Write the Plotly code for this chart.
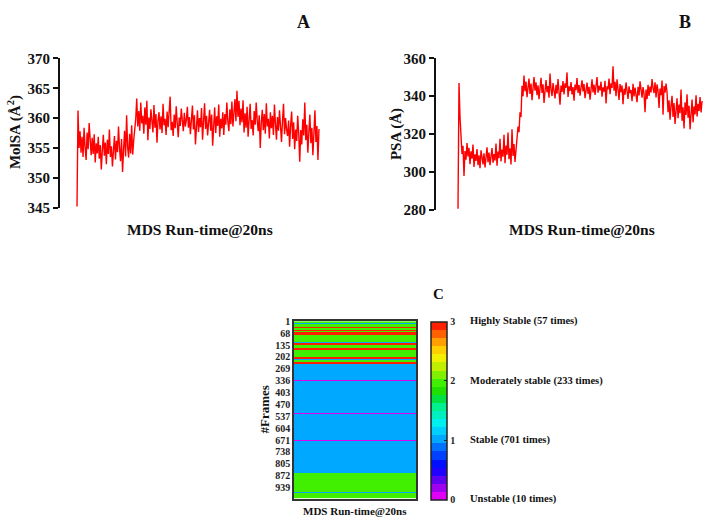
import numpy as np
import plotly.graph_objects as go

# ---------------- DATA ----------------
molsa_values = [
    345.2, 361.3, 355.0, 357.8, 354.2, 356.9, 353.5, 358.4, 355.1, 353.0,
    357.6, 354.8, 359.2, 355.9, 353.8, 356.7, 354.0, 357.3, 352.6, 355.8,
    354.1, 356.9, 353.2, 355.5, 351.4, 354.6, 357.2, 353.7, 355.9, 352.3,
    356.4, 354.0, 358.1, 353.5, 355.3, 351.9, 354.8, 357.0, 353.1, 356.2,
    354.3, 358.6, 355.0, 352.8, 356.5, 351.0, 354.7, 357.9, 353.6, 360.5,
    355.2, 353.4, 357.4, 354.1, 358.8, 353.9, 356.3, 357.6,
    359.8, 363.3, 358.6, 361.2, 357.9, 362.6, 359.1, 360.4, 357.4, 361.8,
    358.9, 362.9, 356.3, 360.1, 358.2, 361.5, 359.0, 357.6, 362.2, 358.4,
    360.7, 355.9, 359.6, 361.0, 358.1,
    360.3, 357.5, 362.4, 358.8, 359.9, 357.2, 361.1, 358.5, 360.8, 363.6,
    358.0, 359.4, 357.0, 360.6, 358.3, 362.0, 359.2, 356.8, 360.1, 358.7,
    361.6, 359.5, 357.8, 360.9, 358.6,
    359.7, 361.9, 358.4, 360.2, 357.3, 359.8, 362.1, 358.1, 360.5, 355.6,
    359.0, 361.3, 357.7, 360.0, 358.5, 361.7, 356.4, 359.3, 362.5, 358.2,
    360.4, 357.1, 359.6, 361.4, 357.9,
    360.6, 355.4, 359.1, 361.8, 357.5, 360.3, 358.7, 362.3, 356.9, 359.9,
    358.3, 361.0, 357.2, 360.7, 358.9, 362.6, 359.4, 357.8, 361.5, 359.0,
    362.8, 358.6, 360.9, 363.2, 359.5,
    364.6, 360.2, 362.9, 358.8, 361.6, 359.3, 363.0, 357.6, 360.8, 358.4,
    361.9, 356.9, 360.1, 362.4, 358.2, 359.7, 357.1, 361.2, 358.9, 362.6,
    359.6, 357.8, 360.5, 355.0, 359.2,
    361.4, 358.0, 360.7, 357.4, 362.5, 358.6, 359.9, 356.6, 361.0, 358.3,
    360.4, 357.2, 362.3, 359.1, 356.4, 360.2, 357.9, 361.3, 358.5, 356.0,
    359.7, 362.4, 357.3, 360.0, 358.1,
    357.0, 359.6, 355.2, 358.8, 361.1, 356.5, 359.3, 354.8, 358.1, 356.2,
    360.4, 357.4, 352.7, 358.0, 355.6, 359.8, 357.1, 362.6, 356.3, 358.9,
    354.2, 357.6, 360.6, 355.8, 358.4, 353.8, 357.2, 361.3, 356.0, 358.7,
    353.0, 358.2,
]

psa_values = [
    280.5, 347.0, 329.0,
    316.2, 309.5, 313.8, 297.8, 311.0, 306.4, 315.3, 308.2, 312.7, 304.1,
    310.9, 307.0, 314.4, 302.6, 309.3, 305.8, 312.1, 303.5, 308.7, 301.9,
    311.4, 306.2, 304.0, 309.8, 302.3, 307.5, 313.0, 305.1, 310.2, 303.6,
    308.9, 312.6, 304.8, 309.4, 306.0, 315.0, 303.2, 310.7, 307.3, 317.5,
    305.5, 311.8, 308.0, 319.6, 304.6, 313.9, 309.1, 320.8, 306.7, 312.4,
    303.9, 322.5, 308.4, 314.7, 305.3, 311.2,
    316.5, 324.0, 321.0, 331.5, 329.0, 345.5, 340.0,
    351.0, 342.6, 347.8, 339.5, 345.1, 349.3, 341.2, 346.7, 337.9, 344.2, 350.1,
    343.0, 347.4, 340.6, 345.8, 338.4, 343.9, 349.8, 341.7, 346.3, 336.5, 344.8,
    348.6, 342.1, 345.4, 339.2, 352.0, 343.5, 340.1, 347.0, 344.0, 338.8, 346.0,
    341.4, 349.1, 343.7, 335.5, 345.6, 342.3, 348.0, 340.9, 346.8, 344.5, 352.6,
    339.6, 345.2, 342.8, 347.5, 341.0, 344.9, 337.6, 346.2, 343.2, 349.6, 341.8,
    345.9, 340.3, 344.6, 348.4, 342.5, 346.5, 339.0, 343.4, 347.2, 341.3, 345.0,
    338.2, 344.1, 348.9, 342.0, 346.1, 340.7, 344.3, 350.2, 341.9, 345.5, 343.1,
    347.7, 339.8, 344.7, 342.4, 348.2, 336.2, 345.3, 343.6, 349.4, 341.1, 346.9,
    344.4, 355.8, 342.9, 347.6, 340.0, 349.0, 343.8, 338.0, 346.4, 342.2, 345.7,
    335.8, 344.0, 340.8, 347.3, 342.7, 338.6, 345.2, 341.6, 343.3, 337.4, 346.6,
    339.9, 344.6, 341.5, 336.9, 345.0, 340.4, 347.9, 342.6, 339.3, 344.8, 341.2,
    331.5, 343.5, 338.5, 346.0, 340.2, 345.1, 342.0, 349.1, 344.3, 341.7, 347.4,
    339.4, 346.3, 342.8, 333.8, 344.1, 340.6, 348.3, 330.2, 345.4, 341.9, 346.7,
    342.0, 331.5, 337.8, 327.6, 334.9, 340.2, 329.0, 336.4, 325.3, 333.1,
    338.9, 328.4, 335.6, 331.0, 343.5, 327.0, 334.2, 323.0, 336.8, 330.1,
    341.0, 328.7, 335.0, 322.5, 333.7, 338.2, 326.2, 334.6, 330.4, 340.5,
    329.3, 336.0, 332.2, 339.6, 331.4, 337.5,
]

# stability state per frame, run-length encoded (state, number of frames)
run_states = [
    2, 1, 2, 1, 2, 2, 3, 2, 3, 2, 3, 2, 2, 1, 2, 3, 2, 1, 2,
    3, 2, 3, 2, 3, 2, 3, 2, 3, 2, 3, 2, 1, 2, 1, 2, 3, 2, 3, 2,
    2, 3, 2, 3, 2, 2, 1, 2, 1, 2, 3, 2, 3, 2, 3, 1, 2, 1, 2, 2,
    3, 2, 3,
    1, 0, 1, 0, 1, 0, 1, 0, 1, 0, 1, 0, 1,
    2, 1, 2, 1, 2, 1, 2, 1, 2,
]
run_lengths = [
    11, 2, 1, 2, 2, 8, 2, 2, 2, 3, 2, 3, 8, 2, 2, 2, 2, 2, 3,
    5, 2, 5, 2, 5, 1, 5, 2, 2, 3, 2, 20, 3, 2, 3, 1, 3, 2, 3, 3,
    19, 1, 4, 2, 4, 13, 3, 2, 4, 13, 4, 1, 4, 1, 4, 3, 2, 3, 1, 9,
    2, 5, 2,
    93, 2, 54, 1, 8, 1, 120, 2, 152, 2, 74, 2, 108,
    30, 1, 25, 1, 20, 1, 28, 8, 27,
]
frame_ticks = [1, 68, 135, 202, 269, 336, 403, 470, 537, 604, 671, 738, 805, 872, 939]
state_ticks = [0, 1, 2, 3]
state_labels = ["Unstable (10 times)", "Stable (701 times)",
                "Moderately stable (233 times)", "Highly Stable (57 times)"]

# ---------------- FIGURE ----------------
W, H = 705, 528
FONT = "Liberation Serif, Times New Roman, serif"


def px(x):
    return x / W


def py(y):
    return 1 - y / H


frame_state = np.repeat(run_states, run_lengths)
frames = np.arange(1, len(frame_state) + 1)

t_a = np.linspace(0, 20, len(molsa_values))
t_b = np.linspace(0, 20, len(psa_values))

band_colors = [
    "#E000F8", "#A000F0", "#6000F0", "#2000FF", "#0010FF", "#0040FF", "#0070FF",
    "#00A8FF", "#00D0FF", "#00F0F0", "#00F0C0", "#00F090", "#00E040", "#20E000",
    "#40F000", "#80F000", "#C0F000", "#F0F000", "#FFD000", "#FFA000", "#FF6000",
    "#FF2000",
]
nb = len(band_colors)
colorscale = []
for i, c in enumerate(band_colors):
    colorscale.append([i / nb, c])
    colorscale.append([(i + 1) / nb, c])

fig = go.Figure()
fig.add_trace(go.Scatter(x=t_a, y=molsa_values, mode="lines",
                         line=dict(color="#FF0000", width=1.4),
                         xaxis="x", yaxis="y", showlegend=False))
fig.add_trace(go.Scatter(x=t_b, y=psa_values, mode="lines",
                         line=dict(color="#FF0000", width=1.4),
                         xaxis="x2", yaxis="y2", showlegend=False))
fig.add_trace(go.Heatmap(
    z=[[s] for s in frame_state], x=[0], y=frames,
    zmin=0, zmax=3, colorscale=colorscale, xaxis="x3", yaxis="y3",
    colorbar=dict(
        x=px(431), xanchor="left", xref="paper",
        y=py(507), yanchor="bottom", len=184 / H, lenmode="fraction",
        thickness=16, thicknessmode="pixels",
        outlinewidth=1.5, outlinecolor="#222",
        tickvals=state_ticks, ticktext=[str(v) for v in state_ticks],
        ticks="inside", ticklen=3, tickcolor="#222",
        tickfont=dict(family=FONT, size=10, color="#222", weight="bold"),
        xpad=0, ypad=0,
    ),
))

axis_font = dict(family=FONT, size=15, color="#111", weight="bold")

fig.update_layout(
    width=W, height=H,
    margin=dict(l=0, r=0, t=0, b=0),
    paper_bgcolor="white", plot_bgcolor="white",
    font=dict(family=FONT, color="#111", weight="bold"),
    xaxis=dict(domain=[px(60), px(322)], range=[-1.405, 20.25], visible=False),
    yaxis=dict(domain=[py(206), py(52)], range=[345, 370], tickvals=[345, 350, 355, 360, 365, 370],
               showline=True, linecolor="#111", linewidth=2, ticks="outside", ticklen=5,
               tickwidth=2, tickcolor="#111", showgrid=False, zeroline=False,
               tickfont=axis_font, anchor="x"),
    xaxis2=dict(domain=[px(436), px(704)], range=[-1.803, 20.16], visible=False, anchor="y2"),
    yaxis2=dict(domain=[py(208), py(52)], range=[280, 360], tickvals=[280, 300, 320, 340, 360],
                showline=True, linecolor="#111", linewidth=2, ticks="outside", ticklen=5,
                tickwidth=2, tickcolor="#111", showgrid=False, zeroline=False,
                tickfont=axis_font, anchor="x2"),
    xaxis3=dict(domain=[px(294), px(416)], showticklabels=False, ticks="", showgrid=False,
                zeroline=False, showline=True, mirror=True, linecolor="#333", linewidth=1.5,
                anchor="y3"),
    yaxis3=dict(domain=[py(506), py(323)], autorange="reversed", tickvals=frame_ticks,
                showgrid=False, zeroline=False, showline=True, mirror=True, linecolor="#333",
                linewidth=1.5, ticks="", tickfont=dict(family=FONT, size=10, color="#222", weight="bold"),
                anchor="x3"),
)

ann = []


def add_text(x, y, text, size, angle=0, xanchor="center", yanchor="middle"):
    ann.append(dict(x=px(x), y=py(y), xref="paper", yref="paper", text=text, showarrow=False,
                    textangle=angle, xanchor=xanchor, yanchor=yanchor,
                    font=dict(family=FONT, size=size, color="#111", weight="bold")))


add_text(303, 14, "A", 18)
add_text(685, 14, "B", 18)
add_text(438, 295, "C", 15)
add_text(14, 128, "MolSA (Å<sup>2</sup>)", 15, angle=-90)
add_text(396, 130, "PSA (Å)", 15, angle=-90)
add_text(200, 228, "MDS Run-time@20ns", 15.5)
add_text(582, 228, "MDS Run-time@20ns", 15.5)
add_text(264, 414, "#Frames", 13, angle=-90)
add_text(355, 519, "MDS Run-time@20ns", 11)
label_y = [506, 445, 385, 323]
for yv, lab in zip(label_y, state_labels):
    add_text(468, yv, lab, 10.5, xanchor="left")

fig.update_layout(annotations=ann)
fig.write_html("out.html", config={"displayModeBar": False},
               post_script="document.body.style.margin='0';document.body.style.overflow='hidden';")
